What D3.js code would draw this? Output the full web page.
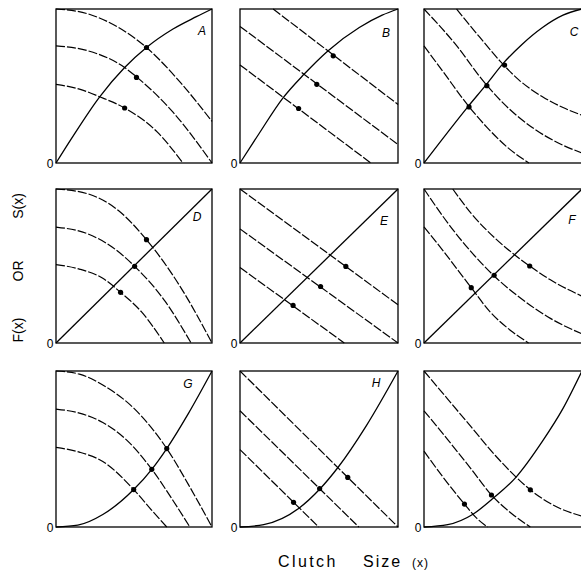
<!DOCTYPE html>
<html>
<head>
<meta charset="utf-8">
<script src="https://cdn.jsdelivr.net/npm/d3@7"></script>
<style>
  html, body { margin: 0; padding: 0; background: #fff; }
  svg { display: block; font-family: "Liberation Sans", Arial, Helvetica, sans-serif; }
</style>
</head>
<body>
<div id="chart"></div>
<script>
const WIDTH = 581;
const HEIGHT = 572;

// panel grid (pixels)
const colLeft = [56, 240, 424];
const colWidth = [156, 158, 158];
const rowTop = [9, 189, 371];
const rowHeight = [154, 154, 156];

const panelLetters = ["A", "B", "C", "D", "E", "F", "G", "H", ""];

// curves in unit coords: [x, y] with y up
const A_solid = [[0,0],[0.1,0.16],[0.28,0.43],[0.44,0.62],[0.58,0.75],[0.75,0.87],[0.9,0.95],[1,1]];
const A_dashed = [
  [[0,1],[0.2,0.97],[0.4,0.88],[0.58,0.75],[0.8,0.52],[1,0.27]],
  [[0,0.76],[0.2,0.73],[0.44,0.62],[0.52,0.556],[0.75,0.33],[1,0]],
  [[0,0.51],[0.15,0.48],[0.28,0.43],[0.44,0.357],[0.65,0.2],[0.814,0]]
];
const A_dots = [[0.58,0.75],[0.516,0.556],[0.44,0.357]];

const B_solid = [[0,0],[0.12,0.19],[0.27,0.42],[0.405,0.576],[0.556,0.728],[0.755,0.88],[0.9,0.96],[1,1]];
const B_dashed = [
  [[0.21,1],[1,0.38]],
  [[0,0.887],[1,0.12]],
  [[0,0.637],[0.828,0]]
];
const B_dots = [[0.59,0.696],[0.486,0.511],[0.371,0.354]];

const C_solid = [[0,0],[0.28,0.368],[0.394,0.509],[0.504,0.65],[0.62,0.77],[0.75,0.88],[0.88,0.96],[1,1]];
const C_dashed = [
  [[0.206,1],[0.35,0.82],[0.483,0.66],[0.6,0.54],[0.75,0.43],[0.88,0.36],[1,0.31]],
  [[0,1],[0.2,0.77],[0.377,0.53],[0.5,0.39],[0.7,0.22],[0.85,0.13],[1,0.065]],
  [[0,0.76],[0.13,0.58],[0.27,0.385],[0.4,0.23],[0.53,0.1],[0.664,0]]
];
const C_dots = [[0.51,0.636],[0.398,0.502],[0.285,0.364]];

const D_solid = [[0,0],[1,1]];
const D_dashed = [
  [[0,1],[0.2,0.97],[0.4,0.86],[0.58,0.671],[0.8,0.36],[1,0]],
  [[0,0.753],[0.2,0.71],[0.35,0.63],[0.504,0.498],[0.7,0.27],[0.866,0]],
  [[0,0.509],[0.15,0.48],[0.3,0.42],[0.414,0.329],[0.55,0.2],[0.694,0]]
];
const D_dots = [[0.58,0.671],[0.504,0.498],[0.414,0.329]];

const E_solid = [[0,0],[1,1]];
const E_dashed = [
  [[0,1],[1,0.248]],
  [[0,0.741],[1,0]],
  [[0,0.49],[0.66,0]]
];
const E_dots = [[0.67,0.497],[0.51,0.367],[0.336,0.244]];

const F_solid = [[0,0],[1,1]];
const F_dashed = [
  [[0.182,1],[0.3,0.84],[0.45,0.68],[0.577,0.57],[0.669,0.5],[0.8,0.41],[1,0.304]],
  [[0,1],[0.15,0.78],[0.3,0.59],[0.444,0.435],[0.6,0.3],[0.8,0.16],[1,0.059]],
  [[0,0.754],[0.12,0.6],[0.299,0.359],[0.42,0.2],[0.55,0.08],[0.662,0]]
];
const F_dots = [[0.669,0.5],[0.444,0.44],[0.299,0.359]];

const G_solid = [[0,0],[0.14,0.012],[0.3,0.08],[0.498,0.24],[0.614,0.37],[0.71,0.503],[0.85,0.73],[1,1]];
const G_dashed = [
  [[0,1],[0.15,0.98],[0.3,0.91],[0.5,0.76],[0.71,0.503],[0.85,0.27],[1,0]],
  [[0,0.756],[0.15,0.73],[0.3,0.67],[0.45,0.56],[0.614,0.37],[0.75,0.17],[0.858,0]],
  [[0,0.51],[0.15,0.48],[0.3,0.42],[0.498,0.24],[0.62,0.1],[0.71,0]]
];
const G_dots = [[0.71,0.503],[0.614,0.37],[0.498,0.24]];

const H_solid = [[0,0],[0.15,0.015],[0.371,0.119],[0.504,0.242],[0.621,0.383],[0.8,0.65],[1,1]];
const H_dashed = [
  [[0,1],[1,0]],
  [[0,0.745],[0.752,0]],
  [[0,0.496],[0.498,0]]
];
const H_dots = [[0.682,0.318],[0.504,0.246],[0.339,0.158]];

const I_solid = [[0,0],[0.15,0.015],[0.31,0.082],[0.438,0.184],[0.583,0.32],[0.75,0.55],[0.88,0.76],[1,1]];
const I_dashed = [
  [[0,1],[0.15,0.82],[0.3,0.64],[0.45,0.46],[0.583,0.32],[0.673,0.238],[0.8,0.15],[1,0.069]],
  [[0,0.745],[0.15,0.56],[0.3,0.37],[0.427,0.205],[0.55,0.09],[0.673,0]],
  [[0,0.486],[0.12,0.32],[0.256,0.147],[0.33,0.06],[0.402,0]]
];
const I_dots = [[0.673,0.238],[0.427,0.205],[0.256,0.147]];

const panels = [
  { solid: A_solid, dashed: A_dashed, dots: A_dots },
  { solid: B_solid, dashed: B_dashed, dots: B_dots },
  { solid: C_solid, dashed: C_dashed, dots: C_dots },
  { solid: D_solid, dashed: D_dashed, dots: D_dots },
  { solid: E_solid, dashed: E_dashed, dots: E_dots },
  { solid: F_solid, dashed: F_dashed, dots: F_dots },
  { solid: G_solid, dashed: G_dashed, dots: G_dots },
  { solid: H_solid, dashed: H_dashed, dots: H_dots },
  { solid: I_solid, dashed: I_dashed, dots: I_dots }
];

// letter offsets from panel's top-right corner (dx from right, dy baseline from top)
const letterPos = [[10,26],[12,28],[8,27],[15,32],[14,36],[10,35],[24,17],[22,16],[10,20]];

const svg = d3.select("#chart")
  .append("svg")
  .attr("width", WIDTH)
  .attr("height", HEIGHT);

const INK = "#000";

panels.forEach((p, i) => {
  const c = i % 3, r = Math.floor(i / 3);
  const x = d3.scaleLinear().domain([0, 1]).range([colLeft[c], colLeft[c] + colWidth[c]]);
  const y = d3.scaleLinear().domain([0, 1]).range([rowTop[r] + rowHeight[r], rowTop[r]]);

  const g = svg.append("g");

  const line = d3.line()
    .x(d => x(d[0]))
    .y(d => y(d[1]))
    .curve(d3.curveMonotoneX);

  // dashed isoclines
  g.selectAll(".iso")
    .data(p.dashed)
    .enter()
    .append("path")
    .attr("d", line)
    .attr("fill", "none")
    .attr("stroke", INK)
    .attr("stroke-width", 1.2)
    .attr("stroke-dasharray", "9,2");

  // solid curve
  g.append("path")
    .attr("d", line(p.solid))
    .attr("fill", "none")
    .attr("stroke", INK)
    .attr("stroke-width", 1.3);

  // frame
  g.append("rect")
    .attr("x", x(0))
    .attr("y", y(1))
    .attr("width", x(1) - x(0))
    .attr("height", y(0) - y(1))
    .attr("fill", "none")
    .attr("stroke", INK)
    .attr("stroke-width", 1.3);

  g.selectAll(".dot")
    .data(p.dots)
    .enter()
    .append("circle")
    .attr("cx", d => x(d[0]))
    .attr("cy", d => y(d[1]))
    .attr("r", 2.6)
    .attr("fill", INK);

  // origin label
  g.append("text")
    .attr("x", x(0) - 6)
    .attr("y", y(0) + 5)
    .attr("text-anchor", "middle")
    .style("font-size", "12px")
    .style("fill", INK)
    .text("0");

  if (panelLetters[i]) {
    g.append("text")
      .attr("x", x(1) - letterPos[i][0])
      .attr("y", y(1) + letterPos[i][1])
      .attr("text-anchor", "middle")
      .style("font-size", "12px")
      .style("font-style", "italic")
      .style("fill", INK)
      .text(panelLetters[i]);
  }
});

// y axis label, reads bottom to top
const yLabel = [
  { t: "F(x)", cy: 330 },
  { t: "OR", cy: 271 },
  { t: "S(x)", cy: 206 }
];
svg.selectAll(".ylab")
  .data(yLabel)
  .enter()
  .append("text")
  .attr("transform", d => `translate(23,${d.cy}) rotate(-90)`)
  .attr("text-anchor", "middle")
  .style("font-size", "14px")
  .style("fill", INK)
  .text(d => d.t);

// x axis label
const xLabel = [
  { t: "Clutch", x: 278, size: 16, ls: 2.4 },
  { t: "Size", x: 363, size: 16, ls: 2.0 },
  { t: "(x)", x: 412, size: 12, ls: 1 }
];
svg.selectAll(".xlab")
  .data(xLabel)
  .enter()
  .append("text")
  .attr("x", d => d.x)
  .attr("y", 567)
  .style("font-size", d => d.size + "px")
  .style("letter-spacing", d => d.ls + "px")
  .style("fill", INK)
  .text(d => d.t);
</script>
</body>
</html>
